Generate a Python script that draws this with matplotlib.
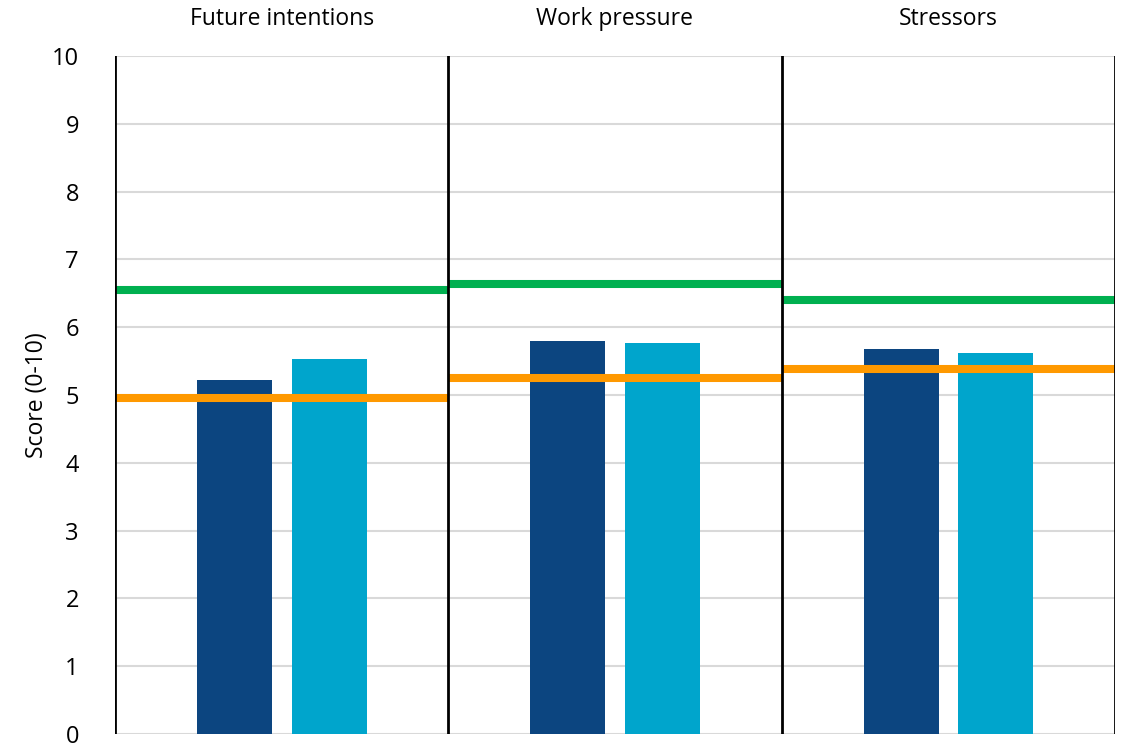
import matplotlib
matplotlib.use("Agg")
import matplotlib.pyplot as plt
import numpy as np

categories = ["Future intentions", "Work pressure", "Stressors"]
series_a = [5.22, 5.80, 5.68]   # dark blue bars
series_b = [5.53, 5.77, 5.62]   # light blue bars
green_ref = [6.55, 6.64, 6.40]
orange_ref = [4.96, 5.25, 5.38]
yticks = list(range(0, 11))

plt.rcParams['font.family'] = ['Open Sans', 'DejaVu Sans']

fig = plt.figure(figsize=(11.27, 7.48), dpi=100)
ax = fig.add_axes([115/1127, 14/748, 1000/1127, 678/748])

x = np.arange(len(categories)) + 0.5
w = 0.225
off = 0.142
ax.bar(x - off, series_a, width=w, color="#0C4580", zorder=3)
ax.bar(x + off, series_b, width=w, color="#00A5CC", zorder=3)

for i in range(len(categories)):
    ax.hlines(green_ref[i], i, i + 1, color="#00B050", linewidth=5.8, zorder=4)
    ax.hlines(orange_ref[i], i, i + 1, color="#FF9900", linewidth=5.8, zorder=4)
    ax.text(i + 0.5, 1.055, categories[i], transform=ax.get_xaxis_transform(),
            ha="center", va="center", fontsize=16.5)

for sep in range(len(categories) + 1):
    ax.axvline(sep, color="black", linewidth=2, zorder=5)

ax.set_xlim(0, 3)
ax.set_ylim(0, 10)
ax.set_yticks(yticks)
ax.set_yticklabels([str(t) for t in yticks], fontsize=17)
ax.set_xticks([])
ax.tick_params(axis="y", length=0, pad=26)
ax.grid(axis="y", color="#D9D9D9", linewidth=1.5, zorder=0)
ax.set_axisbelow(True)
for s in ax.spines.values():
    s.set_visible(False)
ax.set_ylabel("Score (0-10)", fontsize=16.5, labelpad=2)

fig.savefig("out.png", dpi=100)
